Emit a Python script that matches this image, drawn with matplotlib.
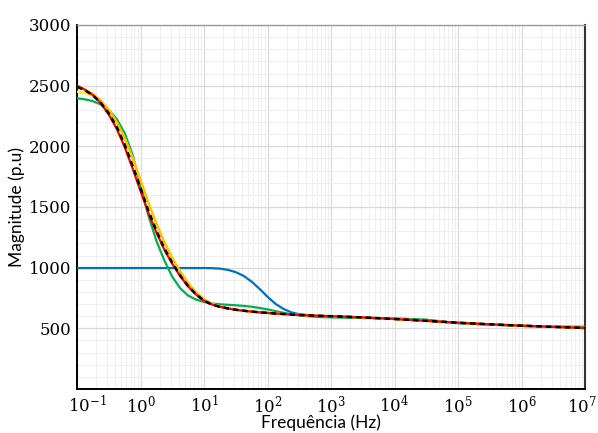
import matplotlib

matplotlib.use("Agg")
import matplotlib.pyplot as plt
import matplotlib.transforms as mtransforms
from matplotlib.ticker import LogLocator, MultipleLocator, NullFormatter, FixedLocator

# frequency grid (Hz), read as log10 positions off the picture
freq = [0.1, 0.133, 0.178, 0.237, 0.316, 0.422, 0.562, 0.75,
        1.0, 1.33, 1.78, 2.37, 3.16, 4.22, 5.62, 7.5,
        10, 13.3, 17.8, 23.7, 31.6, 42.2, 56.2, 75,
        100, 133, 178, 237, 316, 562,
        1e3, 3.16e3, 1e4, 3.16e4, 1e5, 3.16e5, 1e6, 3.16e6, 1e7]

mag_ref = [2490, 2462, 2420, 2358, 2272, 2160, 2015, 1840,
           1655, 1470, 1305, 1160, 1040, 935, 848, 780,
           728, 696, 677, 664, 653, 645, 638, 632,
           627, 622, 618, 614, 610, 604,
           600, 590, 577, 562, 546, 533, 522, 512, 503]

mag_red = [2500, 2467, 2422, 2355, 2262, 2145, 1995, 1818,
           1632, 1450, 1290, 1148, 1032, 930, 845, 778,
           727, 696, 677, 664, 653, 645, 638, 632,
           627, 622, 618, 614, 610, 604,
           600, 590, 577, 562, 546, 533, 522, 512, 503]

mag_orange = [2490, 2468, 2432, 2378, 2302, 2200, 2070, 1905,
              1722, 1537, 1365, 1212, 1082, 970, 873, 797,
              740, 703, 680, 665, 653, 645, 638, 632,
              627, 622, 618, 614, 610, 604,
              600, 590, 577, 562, 546, 533, 522, 512, 503]

mag_yellow = [2450, 2440, 2418, 2370, 2298, 2197, 2068, 1903,
              1720, 1535, 1363, 1210, 1080, 968, 872, 796,
              739, 702, 679, 664, 653, 645, 638, 632,
              627, 622, 618, 614, 610, 604,
              600, 590, 577, 562, 546, 533, 522, 512, 503]

mag_green = [2396, 2387, 2372, 2345, 2300, 2225, 2110, 1930,
             1680, 1430, 1220, 1060, 925, 830, 770, 737,
             718, 705, 698, 694, 690, 685, 678, 668,
             656, 642, 628, 616, 606, 595,
             590, 585, 582, 572, 542, 530, 520, 515, 513]

mag_blue = [997, 997, 997, 997, 997, 997, 997, 997,
            997, 997, 997, 997, 997, 997, 997, 997,
            997, 996, 992, 982, 963, 932, 885, 825,
            760, 703, 660, 632, 616, 604,
            600, 590, 577, 562, 546, 533, 522, 512, 503]

x_ticks = [1e-1, 1e0, 1e1, 1e2, 1e3, 1e4, 1e5, 1e6, 1e7]
x_tick_labels = [r"$10^{-1}$", r"$10^{0}$", r"$10^{1}$", r"$10^{2}$", r"$10^{3}$",
                 r"$10^{4}$", r"$10^{5}$", r"$10^{6}$", r"$10^{7}$"]
y_ticks = [500, 1000, 1500, 2000, 2500, 3000]

plt.rcParams.update({
    "mathtext.fontset": "dejavuserif",
    "font.family": ["DejaVu Serif"],
})

fig = plt.figure(figsize=(5.98, 4.33), dpi=100)
ax = fig.add_axes([0.1288, 0.1016, 0.8495, 0.8407])

ax.plot(freq, mag_blue, color="#0070C0", lw=1.6, zorder=3)
ax.plot(freq, mag_green, color="#00B050", lw=1.6, zorder=3)
ax.plot(freq, mag_yellow, color="#FFFF00", lw=1.6, zorder=4)
ax.plot(freq, mag_orange, color="#FFC000", lw=1.6, zorder=4)
ax.plot(freq, mag_red, color="#FF0000", lw=1.6, zorder=5)
ax.plot(freq, mag_ref, color="black", lw=1.8, ls=(0, (2.2, 1.6)), zorder=6)

ax.set_xscale("log")
ax.set_xlim(1e-1, 1e7)
ax.set_ylim(0, 3000)

ax.xaxis.set_major_locator(FixedLocator(x_ticks))
ax.set_xticklabels(x_tick_labels)
ax.xaxis.set_minor_locator(LogLocator(base=10, subs=range(2, 10), numticks=20))
ax.xaxis.set_minor_formatter(NullFormatter())
ax.set_yticks(y_ticks)
ax.yaxis.set_minor_locator(MultipleLocator(100))

ax.grid(True, which="major", color="#DADADA", lw=0.9, zorder=0)
ax.grid(True, which="minor", color="#EFEFEF", lw=0.8, zorder=0)
ax.set_axisbelow(True)

ax.tick_params(which="both", length=0, labelsize=12, pad=4)

# first and last decade labels are nudged inwards, as in the original
labels = ax.get_xticklabels()
labels[0].set_transform(labels[0].get_transform() + mtransforms.ScaledTranslation(10 / 100, 0, fig.dpi_scale_trans))
labels[-1].set_transform(labels[-1].get_transform() + mtransforms.ScaledTranslation(-3 / 100, 0, fig.dpi_scale_trans))

for side in ("left", "bottom"):
    ax.spines[side].set_color("black")
    ax.spines[side].set_linewidth(1.4)
ax.spines["top"].set_color("#9A9A9A")
ax.spines["top"].set_linewidth(1.0)
ax.spines["right"].set_color("#333333")
ax.spines["right"].set_linewidth(1.5)

ax.set_xlabel("Frequência (Hz)", family=["Lato", "DejaVu Sans"], fontsize=12.5)
ax.set_ylabel("Magnitude (p.u)", family=["Lato", "DejaVu Sans"], fontsize=12.5)
ax.xaxis.set_label_coords(0.48, -0.071)
ax.yaxis.set_label_coords(-0.103, 0.5)

fig.savefig("out.png", dpi=100, facecolor="white")
